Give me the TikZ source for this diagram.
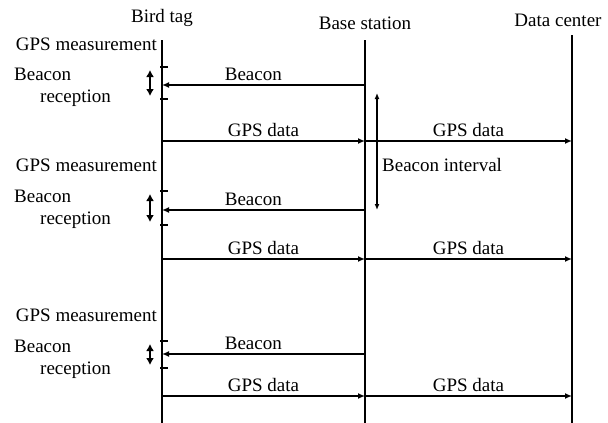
\documentclass[tikz,border=0pt]{standalone}
\usepackage{fontspec}
\setmainfont{Liberation Serif}
\usetikzlibrary{arrows.meta}
\tikzset{
	msg/.style={line width=1.8pt,-{Latex[length=7pt,width=6pt]}},
	tickmark/.style={line width=1.8pt},
	span/.style={line width=2.4pt,{Latex[length=7pt,width=8pt]}-{Latex[length=7pt,width=8pt]}},
	interval/.style={line width=1.3pt,{Latex[length=6pt,width=5pt]}-{Latex[length=6pt,width=5pt]}},
}
\begin{document}
\begin{tikzpicture}[x=1pt,y=-1pt,every node/.style={font=\fontsize{19}{22}\selectfont,inner sep=1pt}]
	\useasboundingbox (0,0) rectangle (608,423);
	% heads and life lines
	\node (tag) at (162,18) {Bird tag};
	\node (base) at (365,23) {Base station};
	\node (center) at (558,20) {Data center};
	\coordinate (tagtop) at (162,40); \coordinate (tagbot) at (162,423);
	\coordinate (basetop) at (365,40); \coordinate (basebot) at (365,423);
	\coordinate (centertop) at (572,35); \coordinate (centerbot) at (572,423);
	\draw[line width=2pt] (tagtop) -- (tagbot);
	\draw[line width=1.3pt] (basetop) -- (basebot);
	\draw[line width=2.6pt] (centertop) -- (centerbot);
	% one round per measurement
	\foreach \g/\r/\ta/\tb/\b/\d [count=\i] in {44/75/67/99/85/141, 165/197/191/225/210/259, 315/347/341/368/354/396} {
		\node[anchor=east] (meas\i) at (158,\g) {GPS measurement};
		\node[anchor=north west,align=left] (recv\i) at (13,\r-8) {Beacon\\\hspace*{26pt}reception};
		\coordinate (tb\i) at (162,\b); \coordinate (bb\i) at (365,\b);
		\coordinate (td\i) at (162,\d); \coordinate (bd\i) at (365,\d); \coordinate (cd\i) at (572,\d);
		\coordinate (ta\i) at (160,\ta); \coordinate (tz\i) at (160,\tb);
		\draw[tickmark] (ta\i) -- ++(8,0);
		\draw[tickmark] (tz\i) -- ++(8,0);
		\draw[span] ([shift={(-10,3)}]ta\i) -- ([shift={(-10,-3)}]tz\i);
		\draw[msg] (bb\i) -- node[pos=.55,above=2pt] (bl\i) {Beacon} (tb\i);
		\draw[msg] (td\i) -- node[above=2pt] (gl\i) {GPS data} (bd\i);
		\draw[msg] (bd\i) -- node[above=2pt] (gr\i) {GPS data} (cd\i);
	}
	% beacon interval
	\coordinate (ivtop) at (377,93); \coordinate (ivbot) at (377,210);
	\draw[interval] (ivtop) -- (ivbot);
	\node[anchor=west] (ivl) at (381,165) {Beacon interval};
\end{tikzpicture}
\end{document}
